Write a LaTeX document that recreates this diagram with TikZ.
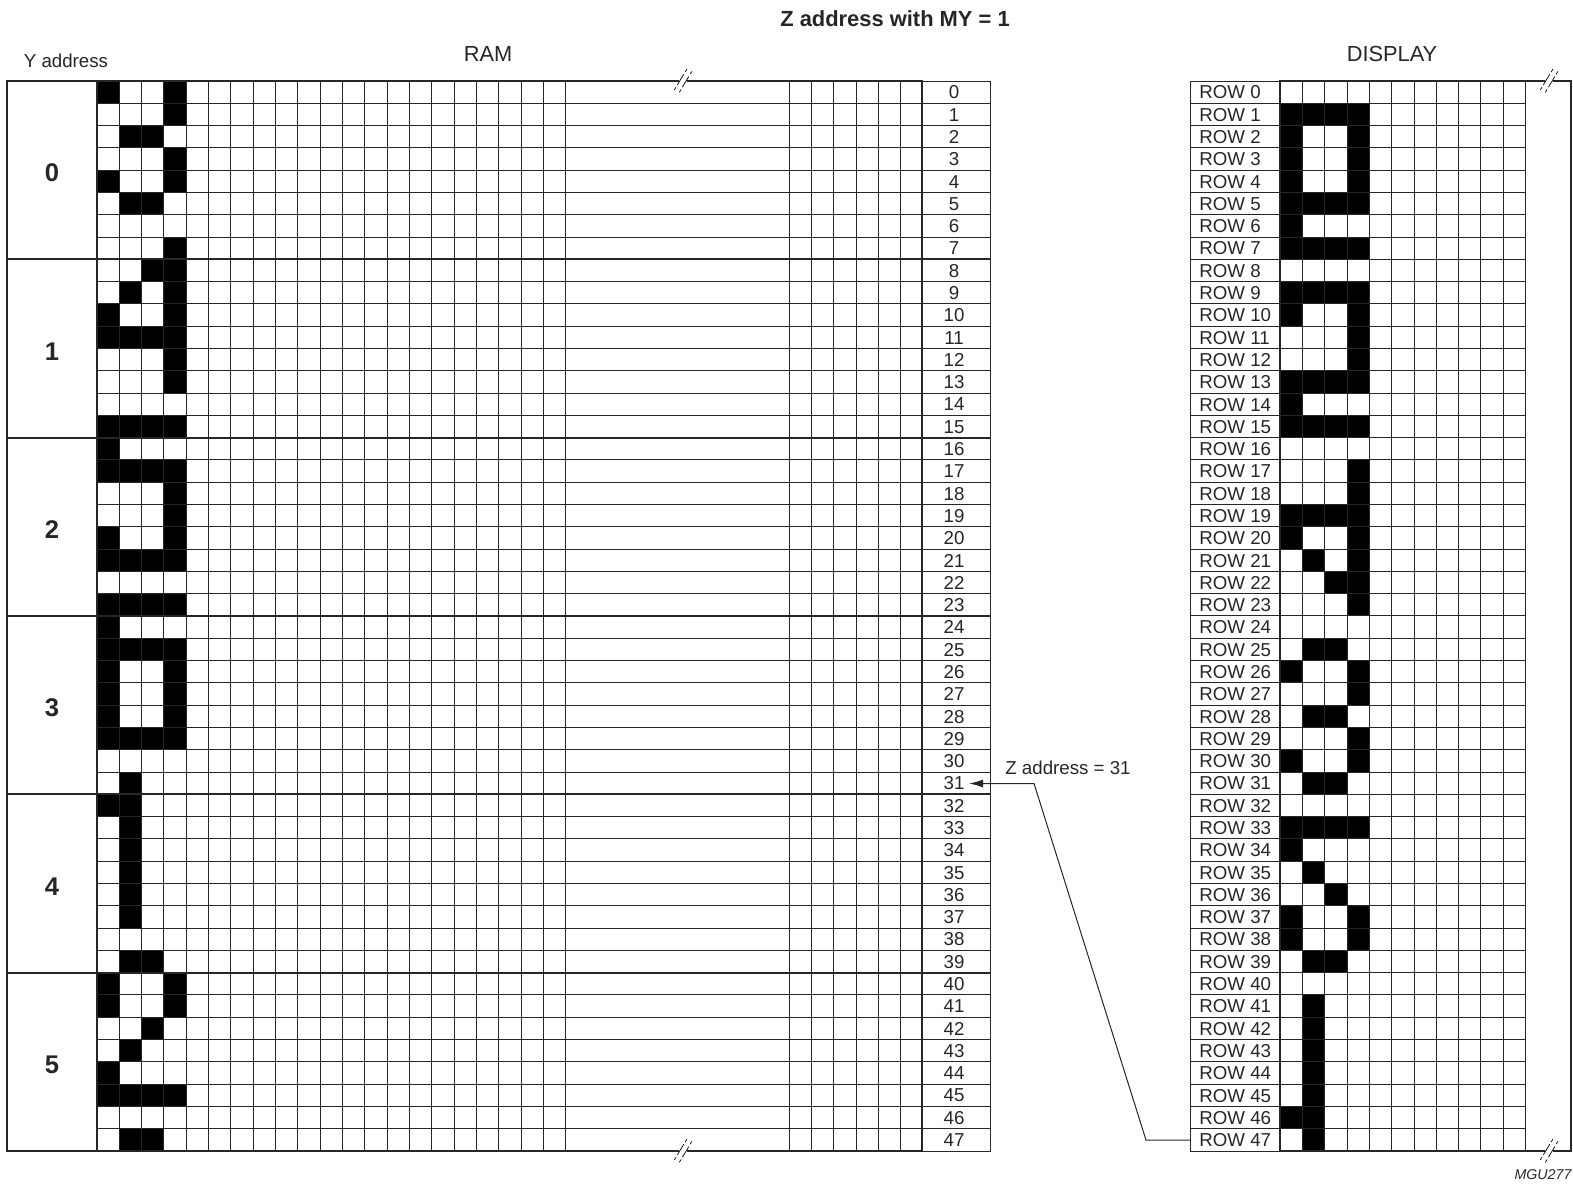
\documentclass[tikz,border=0pt]{standalone}
\usepackage{fontspec}
\setmainfont{Liberation Sans}
\usetikzlibrary{arrows.meta}

\tikzset{
  thinline/.style={line width=0.5pt, black!85},
  thickline/.style={line width=1pt, black!85},
  breakline/.style={line width=0.35pt, black, dash pattern=on 1.6pt off 1.4pt on 6.2pt off 1.4pt on 1.6pt},
  smalltext/.style={font=\fontsize{9.35}{11}\selectfont, inner sep=2.2pt, text=black!85},
  bigtext/.style={font=\fontsize{10.9}{13}\selectfont, text=black!85},
  rowtext/.style={smalltext, anchor=west, inner xsep=4.5pt, inner ysep=0pt},
  pagetext/.style={font=\bfseries\fontsize{12.8}{15}\selectfont, text=black!85}
}

\def\rowh{22.29}
\def\colw{22.33}

\begin{document}
\begin{tikzpicture}[x=0.5pt, y=-0.5pt]
  \useasboundingbox (0,0) rectangle (1573,1183);

  % Pixels, RAM row / columns; the display shows them shifted by Z address
  \foreach \r/\cols in {0/{0,3},1/{3},2/{1,2},3/{3},4/{0,3},5/{1,2},7/{3},
      8/{2,3},9/{1,3},10/{0,3},11/{0,1,2,3},12/{3},13/{3},15/{0,1,2,3},
      16/{0},17/{0,1,2,3},18/{3},19/{3},20/{0,3},21/{0,1,2,3},23/{0,1,2,3},
      24/{0},25/{0,1,2,3},26/{0,3},27/{0,3},28/{0,3},29/{0,1,2,3},31/{1},
      32/{0,1},33/{1},34/{1},35/{1},36/{1},37/{1},39/{1,2},
      40/{0,3},41/{0,3},42/{2},43/{1},44/{0},45/{0,1,2,3},47/{1,2}} {
    \pgfmathtruncatemacro{\dr}{mod(78-\r,48)}
    \foreach \c in \cols {
      \fill[black] (97+\c*\colw,81+\r*\rowh) rectangle ++(\colw,\rowh);
      \fill[black] (1280+\c*\colw,81+\dr*\rowh) rectangle ++(\colw,\rowh);
    }
  }

  % RAM grid
  \foreach \c in {1,...,21,31,32,...,36}
    \draw[thinline] (97+\c*\colw,81) -- (97+\c*\colw,1151);
  \foreach \r in {1,...,47}
    \draw[thinline] (97,81+\r*\rowh) -- (990,81+\r*\rowh);
  \draw[thinline] (922,81) -- (990,81) -- (990,1151) -- (922,1151);
  \foreach \p in {1,...,5}
    \draw[thickline] (7,81+8*\p*\rowh) -- (990,81+8*\p*\rowh);
  \draw[thickline] (7,81) rectangle (922,1151);
  \draw[thickline] (97,81) -- (97,1151);

  % Display grid
  \foreach \c in {1,...,11}
    \draw[thinline] (1280+\c*\colw,81) -- (1280+\c*\colw,1151);
  \foreach \r in {1,...,47}
    \draw[thinline] (1190,81+\r*\rowh) -- (1526,81+\r*\rowh);
  \draw[thinline] (1280,81) -- (1190,81) -- (1190,1151) -- (1280,1151);
  \draw[thickline] (1280,81) rectangle (1571,1151);

  % Break marks
  \foreach \bx/\by in {683/81,683/1151,1549/81,1549/1151} {
    \fill[white] (\bx-3.6,\by-2) rectangle (\bx+3.6,\by+2);
    \draw[breakline] (\bx-8.7,\by+9) -- (\bx+4.7,\by-13.3);
    \draw[breakline] (\bx-3.7,\by+11.3) -- (\bx+9.7,\by-11);
  }

  % Labels
  \node[font=\bfseries\fontsize{10.95}{13}\selectfont, text=black!85] (title) at (895,19) {Z address with MY = 1};
  \node[smalltext] (yaddr) at (66,60.5) {Y address};
  \node[bigtext] (ram) at (488,54) {RAM};
  \node[bigtext] (display) at (1392,53.5) {DISPLAY};
  \foreach \p in {0,...,5}
    \node[pagetext] (page\p) at (52,173+8*\p*\rowh) {\p};
  \foreach \r in {0,...,47} {
    \node[smalltext] (zrow\r) at (954,92.5+\r*\rowh) {\r};
    \node[rowtext] (row\r) at (1190,92.5+\r*\rowh) {\makebox[36pt][l]{ROW \r}};
  }
  \node[smalltext] (zaddr) at (1068,767.5) {Z address = 31};
  \node[font=\itshape\fontsize{7.1}{9}\selectfont, text=black!85] (code) at (1543,1175) {MGU277};

  % Z address pointer
  \coordinate (bendtop) at (1034,0 |- zrow31.east);
  \coordinate (bendbot) at (1146,0 |- row47.west);
  \draw[thinline, -{Latex[length=7pt,width=4pt]}] (row47.west) -- (bendbot) -- (bendtop) -- (zrow31.east);
\end{tikzpicture}
\end{document}
